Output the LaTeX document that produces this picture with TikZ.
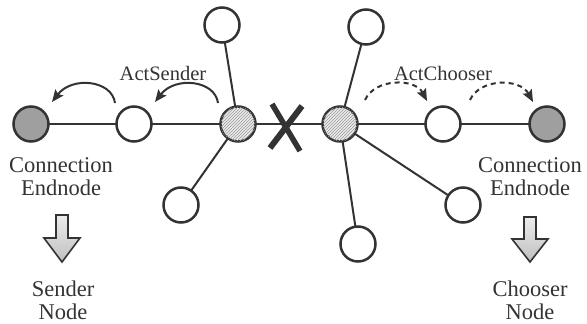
\documentclass[tikz,border=0pt]{standalone}
\usepackage{fontspec}
\setmainfont{Liberation Serif}
\usetikzlibrary{patterns,arrows.meta}
\definecolor{ink}{gray}{0.2}
\tikzset{
  every node/.style={inner sep=0pt, outer sep=0pt},
  plain/.style={circle, draw=ink, line width=2.5pt, minimum size=35pt, fill=white},
  endnode/.style={plain, fill={gray!75}},
  hub/.style={plain, fill={gray!15}, postaction={pattern=north east lines, pattern color=gray!80}},
  link/.style={draw=ink, line width=2pt},
  curv/.style={draw=ink, line width=2pt, -{Stealth[length=12pt,width=10pt,inset=2pt]}},
  dcurv/.style={curv, dash pattern=on 5pt off 4pt},
  lbl/.style={font=\fontsize{20.5}{22}\selectfont, text=ink},
  big/.style={font=\fontsize{22.5}{23}\selectfont, text=ink, align=center},
  downarr/.style={draw=ink, line width=1.6pt, top color=gray!15, bottom color=gray!50, line join=miter}
}
\begin{document}
\begin{tikzpicture}[x=1pt,y=-1pt]
\useasboundingbox (0,0) rectangle (587,324);
% positions
\coordinate (c1) at (31,124);
\coordinate (c2) at (134,124);
\coordinate (c3) at (238,124);
\coordinate (c4) at (340,124);
\coordinate (c5) at (443,124);
\coordinate (c6) at (547,124);
\coordinate (t1) at (222,25);
\coordinate (b1) at (181,205);
\coordinate (t2) at (366,27);
\coordinate (b2) at (358,244);
\coordinate (b3) at (463,205);
% nodes
\node[endnode] (e1) at (c1) {};
\node[plain] (w1) at (c2) {};
\node[hub] (h1) at (c3) {};
\node[hub] (h2) at (c4) {};
\node[plain] (w2) at (c5) {};
\node[endnode] (e2) at (c6) {};
\node[plain] (n1) at (t1) {};
\node[plain] (n2) at (b1) {};
\node[plain] (n3) at (t2) {};
\node[plain] (n4) at (b2) {};
\node[plain] (n5) at (b3) {};
% connectors
\draw[link] (e1) -- (w1);
\draw[link] (w1) -- (h1);
\draw[link] (h1) -- (h2);
\draw[link] (h2) -- (w2);
\draw[link] (w2) -- (e2);
\draw[link] (n1) -- (h1);
\draw[link] (n2) -- (h1);
\draw[link] (n3) -- (h2);
\draw[link] (n4) -- (h2);
\draw[link] (n5) -- (h2);
% X mark
\coordinate (xm) at (287,127);
\draw[ink, line width=5.5pt] ([shift={(-15,-23)}]xm) -- ([shift={(13,24)}]xm);
\draw[ink, line width=6pt] ([shift={(-17,21)}]xm) -- ([shift={(15,-21)}]xm);
% curved arrows
\draw[curv] ([shift={(-19,-21)}]w1.center) .. controls ([shift={(-22,-44)}]w1.center) and ([shift={(-62,-48)}]w1.center) .. ([shift={(-82,-22)}]w1.center);
\draw[curv] ([shift={(-20,-21)}]h1.center) .. controls ([shift={(-23,-44)}]h1.center) and ([shift={(-63,-48)}]h1.center) .. ([shift={(-83,-22)}]h1.center);
\draw[dcurv] ([shift={(25,-24)}]h2.center) .. controls ([shift={(35,-46)}]h2.center) and ([shift={(75,-46)}]h2.center) .. ([shift={(87,-23)}]h2.center);
\draw[dcurv] ([shift={(27,-24)}]w2.center) .. controls ([shift={(37,-46)}]w2.center) and ([shift={(77,-46)}]w2.center) .. ([shift={(90,-22)}]w2.center);
% labels
\node[lbl] (la) at (163,73) {ActSender};
\node[lbl] (lb) at (443,73) {ActChooser};
\node[big] (ce1) at (61,177) {Connection\\Endnode};
\node[big] (ce2) at (530,177) {Connection\\Endnode};
% down arrows
\draw[downarr] (56,215) -- (68,215) -- (68,238) -- (80,238) -- (62,262) -- (44,238) -- (56,238) -- cycle;
\draw[downarr] (524,217) -- (536,217) -- (536,239) -- (548,239) -- (530,262) -- (512,239) -- (524,239) -- cycle;
\node[big] (sn) at (63,300) {Sender\\Node};
\node[big] (cn) at (530,300) {Chooser\\Node};
\end{tikzpicture}
\end{document}
